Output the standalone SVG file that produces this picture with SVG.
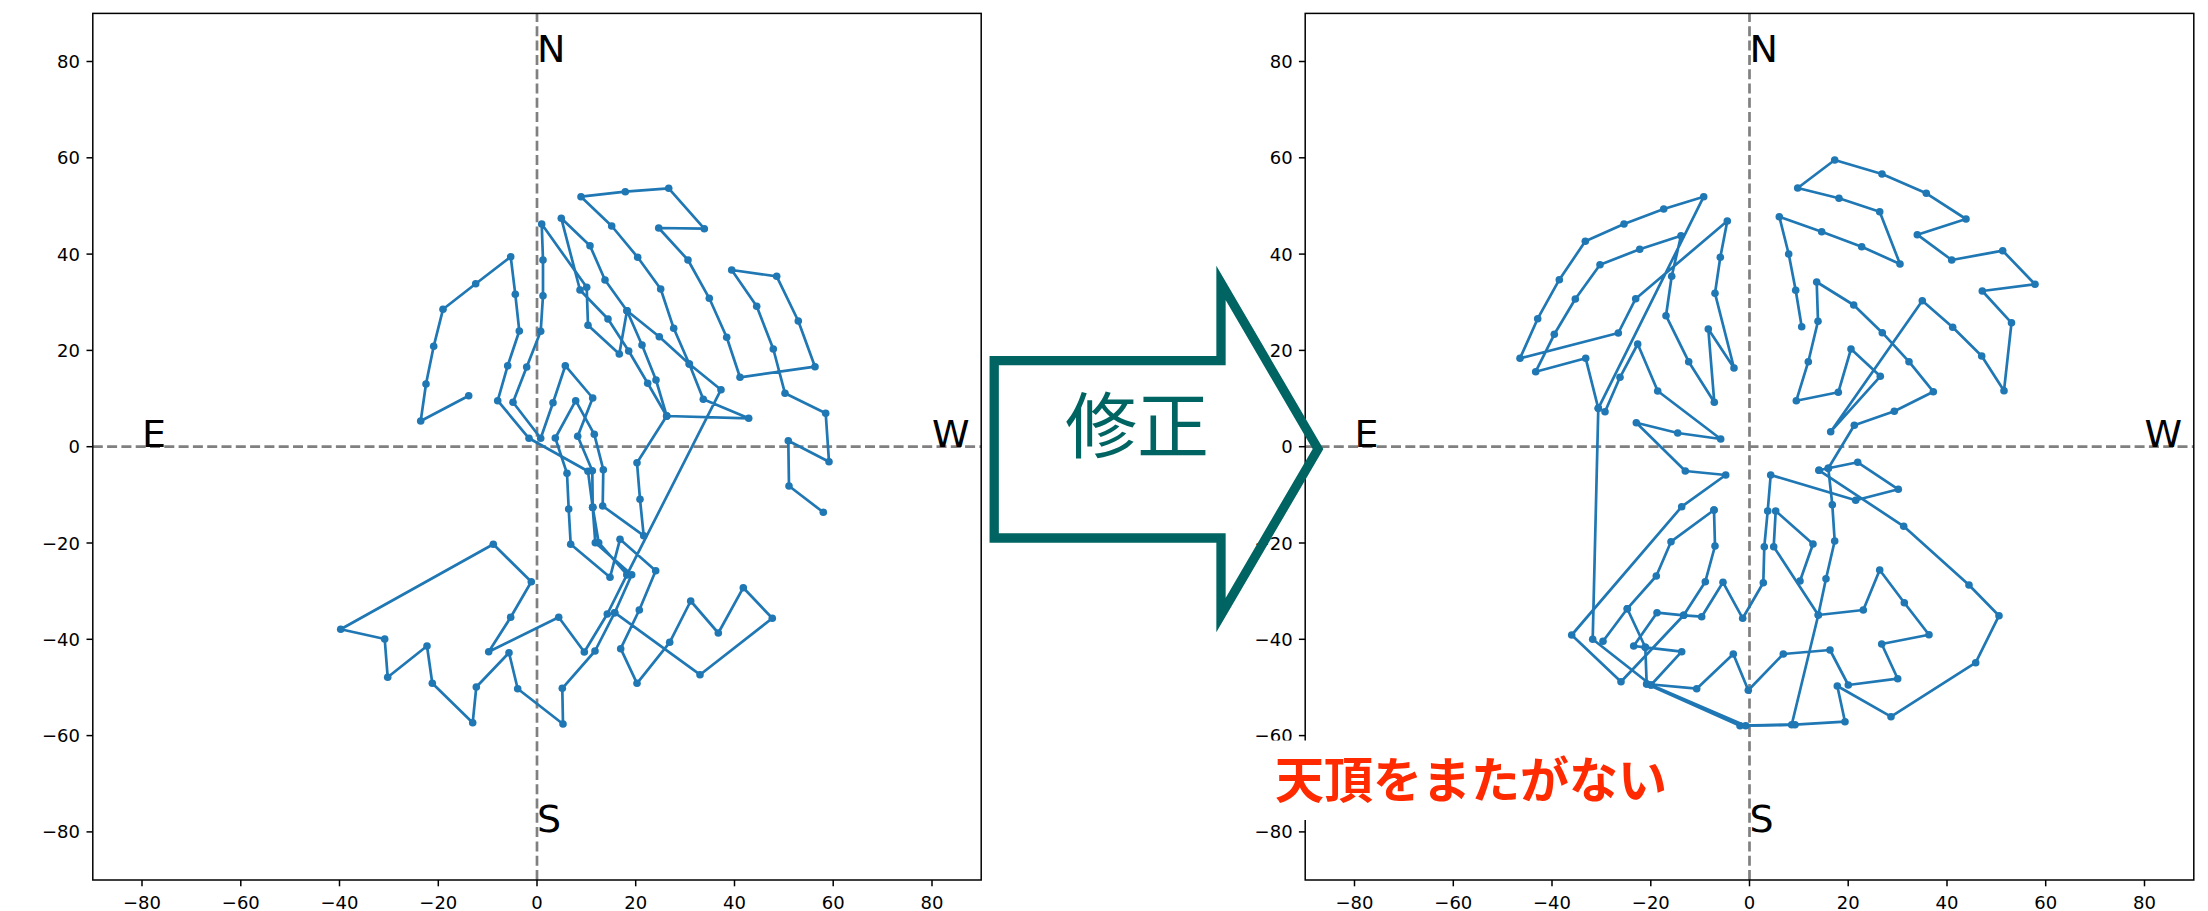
<svg xmlns="http://www.w3.org/2000/svg" width="2208" height="911" viewBox="0 0 2208 911">
<style>
.frame{fill:none;stroke:#000;stroke-width:1.5}
.tk{stroke:#000;stroke-width:1.5}
.tl{font-family:"DejaVu Sans",sans-serif;font-size:18px;fill:#000}
.tly{text-anchor:end}
.tlx{text-anchor:middle}
.dash{stroke:#808080;stroke-width:2.7;stroke-dasharray:10 4.3;fill:none}
.d{fill:none;stroke:#1f77b4;stroke-width:2.7;stroke-linejoin:round;marker-start:url(#m);marker-mid:url(#m);marker-end:url(#m)}
.dir{font-family:"DejaVu Sans",sans-serif;font-size:38px;fill:#000}
</style>
<defs>
<marker id="m" markerUnits="userSpaceOnUse" markerWidth="10" markerHeight="10" refX="5" refY="5" viewBox="0 0 10 10" overflow="visible"><circle cx="5" cy="5" r="3.8" fill="#1f77b4"/></marker>
</defs>
<rect width="2208" height="911" fill="#fff"/>

<g id="left-plot">
<line class="dash" x1="537" y1="880" x2="537" y2="13.4"/>
<line class="dash" x1="92.8" y1="446.7" x2="981.2" y2="446.7"/>
<g id="left-data">
<polyline class="d" points="823.3,512.3 789,486 788.3,440.7 829,461.7 825.7,413.3 785,393.3 773.3,349 756.7,306.3 731.7,270 776.7,276.3 798.3,321 815,366.7 740,377.3 726.7,337.3 709.3,298.3 688,260 658.7,228 704.3,228.7 668.7,188.3 625.3,191.7 581,196.7 611.7,226 637.7,257.3 660.7,289 673.7,328.3 689.3,364 703.3,399.3 748.7,418.3 666.7,416 637,462.7 640,499.3 643.7,535.7 602.7,506 603.3,469.7 594.3,434.3 575.7,400.7 555.3,438 567,473.3 568.7,509 570.7,544.3 610,577.3 620,539.3 655.7,570.7 639.3,610 620.7,648.7 637,683.3 669.7,642.3 690.7,601 718.3,633 743.3,587.7 772.3,618.3 700,674.7 614.7,612.7 595,651 562.3,688.3 563,724 517.7,688.7 509,652.7 476.3,687 472.7,722.7 432.3,683.3 427,646 387.7,677.3 384.7,639 340.7,629.3 493.3,544.3 531.3,581.7 510.7,617.3 488.7,651.7 558.7,617.3 584.3,652 607.3,614 627,574.7 721,389.7 689.3,364 659.3,336.7 627,310.7 605,280 590,245.7 561.3,218.3 580,290 608,319 628.7,351 647.7,383.3 666.7,416"/>
<polyline class="d" points="614.7,612.7 631.7,574.7 595.3,542.7 592.7,507.3 598.7,542.7 627,574.7"/>
<polyline class="d" points="592.7,507.3 588,471.3 529,438.3 497.7,400.7 507.7,365.7 519.3,331 515.3,294.3 510.7,256.7 475.7,283.7 443,309.3 433.7,346.3 426,384 420.7,421 468.7,395.7"/>
<polyline class="d" points="592.7,507.3 592.3,470.7 577.7,436.3 592.7,398 565.3,365.7 553,402.7 540.7,438.3 513,402.3 526.7,367 540.7,331.3 543,295.7 543,260 541.7,224 586.7,287.3 588,325.3 619.3,354 627,310.7 642,345 656,380 666.7,416"/>
</g>
<text class="dir" x="537" y="61.5">N</text>
<text class="dir" x="537" y="831.9">S</text>
<text class="dir" x="142" y="446.7">E</text>
<text class="dir" x="932" y="446.7">W</text>
<rect class="frame" x="92.8" y="13.4" width="888.4" height="866.6"/>
<g class="tk">
<line x1="86.5" y1="61.5" x2="92.8" y2="61.5"/><line x1="86.5" y1="157.8" x2="92.8" y2="157.8"/><line x1="86.5" y1="254.1" x2="92.8" y2="254.1"/><line x1="86.5" y1="350.4" x2="92.8" y2="350.4"/><line x1="86.5" y1="446.7" x2="92.8" y2="446.7"/><line x1="86.5" y1="543" x2="92.8" y2="543"/><line x1="86.5" y1="639.3" x2="92.8" y2="639.3"/><line x1="86.5" y1="735.6" x2="92.8" y2="735.6"/><line x1="86.5" y1="831.9" x2="92.8" y2="831.9"/>
<line x1="142" y1="880" x2="142" y2="886.3"/><line x1="240.8" y1="880" x2="240.8" y2="886.3"/><line x1="339.5" y1="880" x2="339.5" y2="886.3"/><line x1="438.3" y1="880" x2="438.3" y2="886.3"/><line x1="537" y1="880" x2="537" y2="886.3"/><line x1="635.7" y1="880" x2="635.7" y2="886.3"/><line x1="734.5" y1="880" x2="734.5" y2="886.3"/><line x1="833.2" y1="880" x2="833.2" y2="886.3"/><line x1="932" y1="880" x2="932" y2="886.3"/>
</g>
<g class="tl tly">
<text x="80" y="68">80</text><text x="80" y="164.3">60</text><text x="80" y="260.6">40</text><text x="80" y="356.9">20</text><text x="80" y="453.2">0</text><text x="80" y="549.5">−20</text><text x="80" y="645.8">−40</text><text x="80" y="742.1">−60</text><text x="80" y="838.4">−80</text>
</g>
<g class="tl tlx">
<text x="142" y="909">−80</text><text x="240.8" y="909">−60</text><text x="339.5" y="909">−40</text><text x="438.3" y="909">−20</text><text x="537" y="909">0</text><text x="635.7" y="909">20</text><text x="734.5" y="909">40</text><text x="833.2" y="909">60</text><text x="932" y="909">80</text>
</g>
</g>

<g id="right-plot">
<line class="dash" x1="1749.5" y1="880" x2="1749.5" y2="13.4"/>
<line class="dash" x1="1305.2" y1="446.7" x2="2193.8" y2="446.7"/>
<g id="right-data">
<polyline class="d" points="1801.7,326.7 1795.7,290.3 1788.7,254 1779.3,216.7 1821.7,231.7 1861.7,246.7 1900,264 1879.7,211.7 1839,198.3 1797.7,188 1834.7,160 1882,174 1926.3,193.3 1966,219 1917.3,234.7 1951.7,260 2002.7,250.7 2035,284.3 1982.3,291 2011.5,322.8 2004,390.7 1981.7,356 1952.7,327.3 1922.3,300.7 1830.7,431.7 1880.3,376.3 1851,349 1838.3,392.3 1796.3,400.7 1808.3,361.7 1818,321.3 1816.7,282 1853.7,305 1882.3,332.7 1909,361.7 1933.3,391.7 1894.3,411.3 1854.3,425.3 1828.3,468.3 1857.7,462.3 1898.3,489.3 1855.7,500.3 1770.7,475 1767.7,511 1764.3,546.7 1763.3,582.7 1742.7,618.3 1723,582.3 1701.7,616.7 1683.7,615.3 1657,612.7 1633.7,646 1645.3,647.3 1681.7,651.7 1651,685"/>
<polyline class="d" points="1819,470.3 1828.3,468.3 1832.3,504.7 1834.7,541 1826,578.7 1818.3,615 1863.3,610 1879.7,570 1904.3,602.7 1929,634.7 1881.7,644 1897.7,678.7 1848.3,685 1830,650 1783.3,654 1748.3,690.3 1733.3,654 1696.7,688.7 1646.7,684 1740,725.7 1791.7,724.7 1818.3,615 1773.7,546.7 1775.7,511 1813,544 1800,581"/>
<polyline class="d" points="1819,470.3 1903.7,526.3 1969,585 1999,615.7 1975.7,662.7 1891,716.7 1837.3,686 1845,721.7 1795,724.7 1745.7,725.7 1651,685 1592.7,639.3 1598.3,408.3 1585.7,358.3 1535.7,371.7 1554.3,334.3 1575.3,299 1600,264.7 1639.7,249.3 1681,235.7 1671.7,276.3 1666,315.7 1688.7,361.7 1714.3,402.3 1708.3,329 1734,368 1715,293.3 1720.3,257.3 1727.3,221 1635.7,298.7 1618.3,333 1520,358.3 1537.7,318.7 1559.3,279.7 1585.3,241.3 1624,224 1663.7,209 1703.7,196.7 1598.3,408.3"/>
<polyline class="d" points="1714,510 1671,541.7 1656.3,576 1627.3,608.7 1603,641.3"/>
<polyline class="d" points="1627.3,608.7 1645.3,647.3 1646.7,684"/>
<polyline class="d" points="1714,510 1715,546 1705.3,581.7 1683.7,615.3 1621,681.7 1571.7,635 1681.7,506.7 1725.7,475 1685.3,471 1636.3,422.7 1677.7,433 1720.7,439 1657.7,391 1637.7,344 1620,377.3 1605,411.7"/>
</g>
<text class="dir" x="1749.5" y="61.5">N</text>
<text class="dir" x="1749.5" y="831.9">S</text>
<text class="dir" x="1354.5" y="446.7">E</text>
<text class="dir" x="2144.5" y="446.7">W</text>
<rect class="frame" x="1305.2" y="13.4" width="888.6" height="866.6"/>
<g class="tk">
<line x1="1298.9" y1="61.5" x2="1305.2" y2="61.5"/><line x1="1298.9" y1="157.8" x2="1305.2" y2="157.8"/><line x1="1298.9" y1="254.1" x2="1305.2" y2="254.1"/><line x1="1298.9" y1="350.4" x2="1305.2" y2="350.4"/><line x1="1298.9" y1="446.7" x2="1305.2" y2="446.7"/><line x1="1298.9" y1="543" x2="1305.2" y2="543"/><line x1="1298.9" y1="639.3" x2="1305.2" y2="639.3"/><line x1="1298.9" y1="735.6" x2="1305.2" y2="735.6"/><line x1="1298.9" y1="831.9" x2="1305.2" y2="831.9"/>
<line x1="1354.5" y1="880" x2="1354.5" y2="886.3"/><line x1="1453.3" y1="880" x2="1453.3" y2="886.3"/><line x1="1552" y1="880" x2="1552" y2="886.3"/><line x1="1650.8" y1="880" x2="1650.8" y2="886.3"/><line x1="1749.5" y1="880" x2="1749.5" y2="886.3"/><line x1="1848.2" y1="880" x2="1848.2" y2="886.3"/><line x1="1947" y1="880" x2="1947" y2="886.3"/><line x1="2045.7" y1="880" x2="2045.7" y2="886.3"/><line x1="2144.5" y1="880" x2="2144.5" y2="886.3"/>
</g>
<g class="tl tly">
<text x="1292.6" y="68">80</text><text x="1292.6" y="164.3">60</text><text x="1292.6" y="260.6">40</text><text x="1292.6" y="356.9">20</text><text x="1292.6" y="453.2">0</text><text x="1292.6" y="549.5">−20</text><text x="1292.6" y="645.8">−40</text><text x="1292.6" y="742.1">−60</text><text x="1292.6" y="838.4">−80</text>
</g>
<g class="tl tlx">
<text x="1354.5" y="909">−80</text><text x="1453.3" y="909">−60</text><text x="1552" y="909">−40</text><text x="1650.8" y="909">−20</text><text x="1749.5" y="909">0</text><text x="1848.2" y="909">20</text><text x="1947" y="909">40</text><text x="2045.7" y="909">60</text><text x="2144.5" y="909">80</text>
</g>
</g>

<g id="arrow">
<polygon points="994.2,360.7 1221,360.7 1221,283 1318,449 1221,615 1221,538 994.2,538" fill="none" stroke="#006562" stroke-width="9.3" stroke-linejoin="miter" stroke-miterlimit="10"/>
<text x="1137" y="452" text-anchor="middle" font-family="'Noto Sans CJK JP',sans-serif" font-size="72" fill="#006562">修正</text>
</g>

<g id="note">
<rect x="1240" y="740.5" width="450" height="79.5" fill="#fff"/>
<text x="1275" y="798" font-family="'Noto Sans CJK JP',sans-serif" font-size="49" font-weight="700" fill="#ff2a00">天頂をまたがない</text>
</g>
</svg>
